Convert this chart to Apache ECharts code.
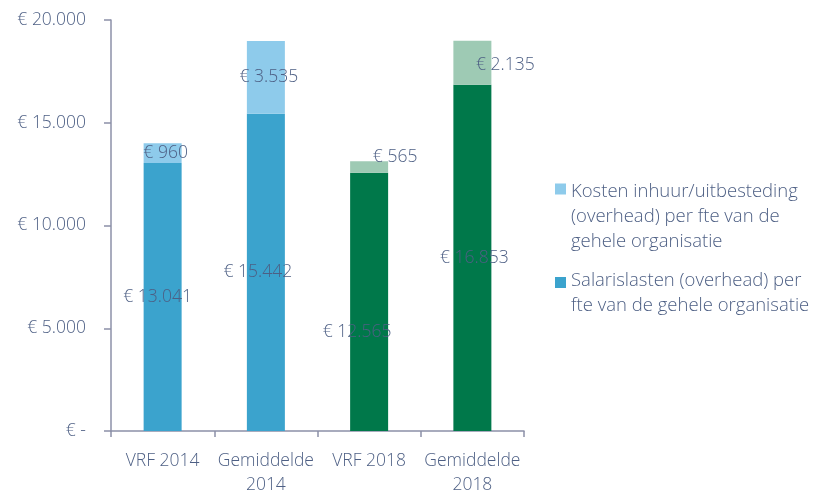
<!DOCTYPE html>
<html>
<head>
<meta charset="utf-8">
<script src="https://cdn.jsdelivr.net/npm/echarts@6/dist/echarts.min.js"></script>
<style>html,body{margin:0;padding:0;background:#fff;}#c{width:817px;height:497px;}</style>
</head>
<body>
<div id="c"></div>
<script>
var categories = ['VRF 2014', 'Gemiddelde\n2014', 'VRF 2018', 'Gemiddelde\n2018'];
var salarislasten = [13041, 15442, 12565, 16853];
var inhuur = [960, 3535, 565, 2135];
var seriesNames = ['Salarislasten (overhead) per\nfte van de gehele organisatie', 'Kosten inhuur/uitbesteding\n(overhead) per fte van de\ngehele organisatie'];
var yTicks = [0, 5000, 10000, 15000, 20000];

var salColors = ['#3BA3CD', '#3BA3CD', '#00784A', '#00784A'];
var inhColors = ['#8ECBEB', '#8ECBEB', '#9ECAB4', '#9ECAB4'];
var salOffsets = [[-5, 0], [-8, 0], [-12, 30], [2, 0]];
var inhOffsets = [[3, 0], [3, 0], [26, -10], [33, 2]];

var textColor = '#4D5F84';
var fontFam = '"Open Sans", "Noto Sans", sans-serif';
var fw = 300;
var fs = 17.5;

function euro(v) {
  if (v === 0) return '€ -';
  return '€ ' + String(v).replace(/\B(?=(\d{3})+(?!\d))/g, '.');
}

var iconKosten = 'path://M0,4.5h11v11h-11z M0,0h0.01v0.01h-0.01z M0,75h0.01v0.01h-0.01z';
var iconSalaris = 'path://M0,21h11v11h-11z M0,0h0.01v0.01h-0.01z M0,75h0.01v0.01h-0.01z';

var chart = echarts.init(document.getElementById('c'));
chart.setOption({
  animation: false,
  textStyle: { fontFamily: fontFam, fontWeight: fw },
  grid: { left: 111, right: 293, top: 20, bottom: 64, containLabel: false },
  legend: {
    orient: 'vertical', left: 550, top: 174,
    data: [
      { name: seriesNames[1], icon: iconKosten, itemStyle: { color: inhColors[0] } },
      { name: seriesNames[0], icon: iconSalaris, itemStyle: { color: salColors[0] } }
    ],
    itemWidth: 11, itemHeight: 75, itemGap: 2, symbolKeepAspect: false,
    textStyle: { color: textColor, fontSize: 18.5, lineHeight: 25, fontFamily: fontFam, fontWeight: fw },
    selectedMode: false
  },
  xAxis: {
    type: 'category', data: categories,
    axisLine: { lineStyle: { color: '#8C90A8', width: 1.5 } },
    axisTick: { show: true, interval: 0, length: 6, lineStyle: { color: '#8C90A8', width: 1.5 } },
    axisLabel: { interval: 0, color: textColor, fontSize: fs, lineHeight: 24, margin: 18, fontFamily: fontFam, fontWeight: fw }
  },
  yAxis: {
    type: 'value', min: 0, max: 20000, interval: 5000,
    axisLine: { show: true, lineStyle: { color: '#8C90A8', width: 1.5 } },
    axisTick: { show: true, length: 7, lineStyle: { color: '#8C90A8', width: 1.5 } },
    splitLine: { show: false },
    axisLabel: { color: textColor, fontSize: fs, margin: 25, fontFamily: fontFam, fontWeight: fw, formatter: euro }
  },
  series: [
    {
      name: seriesNames[0], type: 'bar', stack: 'a', barWidth: 38,
      itemStyle: { color: salColors[0] },
      data: salarislasten.map(function (v, i) {
        return { value: v, itemStyle: { color: salColors[i] },
          label: { offset: salOffsets[i] } };
      }),
      label: { show: true, position: 'inside', color: textColor, fontSize: fs, fontFamily: fontFam, fontWeight: fw,
        formatter: function (p) { return euro(p.value); } }
    },
    {
      name: seriesNames[1], type: 'bar', stack: 'a', barWidth: 38,
      itemStyle: { color: inhColors[0] },
      data: inhuur.map(function (v, i) {
        return { value: v, itemStyle: { color: inhColors[i] },
          label: { offset: inhOffsets[i] } };
      }),
      label: { show: true, position: 'inside', color: textColor, fontSize: fs, fontFamily: fontFam, fontWeight: fw,
        formatter: function (p) { return euro(p.value); } }
    }
  ]
});
</script>
</body>
</html>
